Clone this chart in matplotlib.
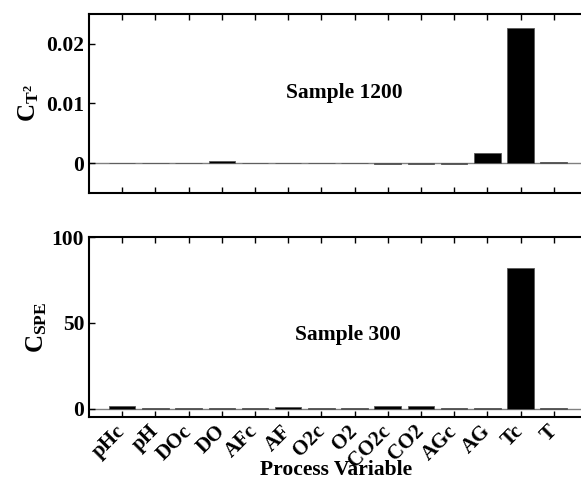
import numpy as np
import matplotlib
matplotlib.use("Agg")
import matplotlib.pyplot as plt

# variable names and contribution values
variables = ['pHc', 'pH', 'DOc', 'DO', 'AFc', 'AF', 'O2c', 'O2',
             'CO2c', 'CO2', 'AGc', 'AG', 'Tc', 'T']
ct2_sample1200 = [0.00002, 0.00003, 0.00008, 0.0003, 0.00006, 0.00006, 0.0001,
                  0.0001, -0.00008, -0.0001, -0.0002, 0.0017, 0.0227, 0.0002]
cspe_sample300 = [1.6, 0.5, 0.6, 0.6, 0.6, 0.9, 0.5, 0.5,
                  1.6, 1.6, 0.6, 0.4, 81.8, 0.6]

plt.rcParams['font.family'] = ['Liberation Serif', 'DejaVu Serif']
plt.rcParams['font.weight'] = 'bold'
plt.rcParams['mathtext.fontset'] = 'custom'
plt.rcParams['mathtext.rm'] = 'Liberation Serif:bold'
plt.rcParams['mathtext.it'] = 'Liberation Serif:bold'
plt.rcParams['mathtext.bf'] = 'Liberation Serif:bold'

fig = plt.figure(figsize=(5.81, 4.79), dpi=100)
ax1 = fig.add_axes([0.1532, 0.597, 0.857, 0.374])
ax2 = fig.add_axes([0.1532, 0.1288, 0.857, 0.3764])

x = np.arange(1, len(variables) + 1)

for ax, vals in ((ax1, ct2_sample1200), (ax2, cspe_sample300)):
    ax.axhline(0, color='0.5', lw=1, zorder=1)
    ax.bar(x, vals, width=0.8, color='black', edgecolor='0.35', lw=0.6, zorder=2)
    ax.set_xlim(0, 15)
    ax.set_xticks(x)
    ax.tick_params(direction='in', length=4, width=1, top=True, right=True,
                   labelsize=15.5)
    for s in ax.spines.values():
        s.set_linewidth(1.5)

ax1.set_ylim(-0.005, 0.025)
ax1.set_yticks([0, 0.01, 0.02])
ax1.set_yticklabels(['0', '0.01', '0.02'])
ax1.set_xticklabels([])
ax1.set_ylabel(r'$\mathbf{C_{T^2}}$', fontsize=18, labelpad=4)
ax1.text(7.7, 0.0118, 'Sample 1200', ha='center', va='center',
         fontsize=15.5, fontweight='bold')

ax2.set_ylim(-5, 100)
ax2.set_yticks([0, 50, 100])
ax2.set_xticklabels(variables, rotation=45, ha='right', va='center',
                    rotation_mode='anchor', fontsize=15, fontweight='bold')
ax2.tick_params(axis='x', pad=8)
ax2.set_ylabel(r'$\mathbf{C_{SPE}}$', fontsize=18, labelpad=2)
ax2.set_xlabel('Process Variable', fontsize=15.5, fontweight='bold')
ax2.xaxis.set_label_coords(0.497, -0.295)
ax2.xaxis.label.set_va('center')
ax2.text(7.8, 42.8, 'Sample 300', ha='center', va='center',
         fontsize=15.5, fontweight='bold')

fig.savefig('out.png', dpi=100)
